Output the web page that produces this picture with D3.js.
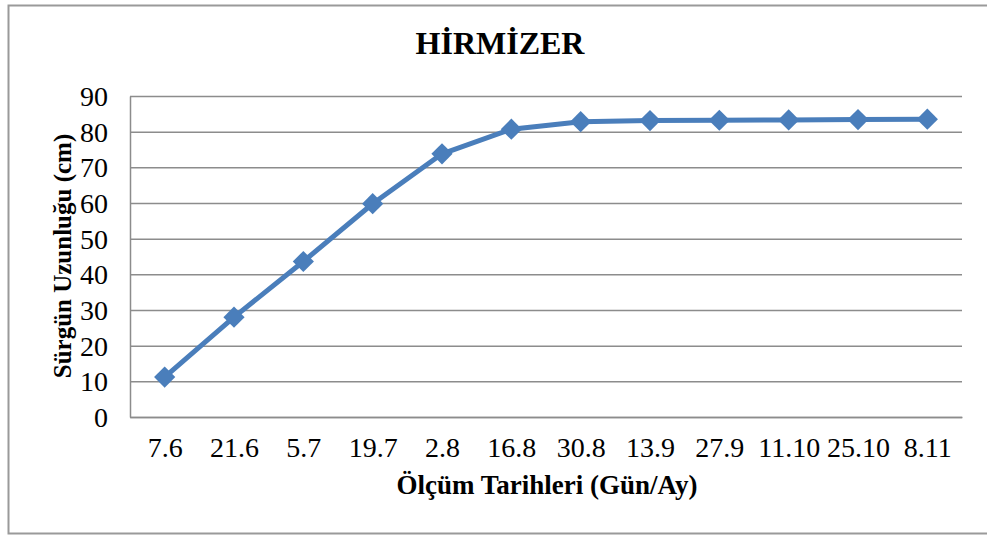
<!DOCTYPE html>
<html>
<head>
<meta charset="utf-8">
<script src="https://cdn.jsdelivr.net/npm/d3@7"></script>
<style>
  body { margin: 0; background: #fff; }
  svg text { font-family: "Liberation Serif", "Times New Roman", serif !important; fill: #000; }
</style>
</head>
<body>
<div id="chart"></div>
<script>
// measurement dates (day.month)
var dates = ["7.6", "21.6", "5.7", "19.7", "2.8", "16.8", "30.8", "13.9", "27.9", "11.10", "25.10", "8.11"];
// shoot length (cm)
var lengths = [11.2, 28.0, 43.6, 59.8, 73.8, 80.7, 82.8, 83.1, 83.2, 83.3, 83.4, 83.5];
var yTicks = [0, 10, 20, 30, 40, 50, 60, 70, 80, 90];

var W = 987, H = 536;
var margin = { top: 96, right: 25, bottom: 119, left: 130 },
  width  = W - margin.left - margin.right,
  height = H - margin.top - margin.bottom;

var svg = d3.select("#chart").append("svg")
  .attr("width", W)
  .attr("height", H);

// outer chart border (right edge runs off the picture)
svg.append("path")
  .attr("d", "M" + (W + 5) + ",5.5 H8.5 V533.5 H" + (W + 5))
  .attr("fill", "none")
  .attr("stroke", "#9a9a9a")
  .attr("stroke-width", 2);

var g = svg.append("g")
  .attr("transform", "translate(" + margin.left + "," + margin.top + ")");

var x = d3.scalePoint()
  .domain(dates)
  .range([0, width])
  .padding(0.5);

var y = d3.scaleLinear()
  .domain([0, 90])
  .range([height, 0]);

// gridlines
g.append("g")
  .attr("class", "grid")
  .call(d3.axisLeft(y).tickValues(yTicks).tickSize(-width).tickFormat(""))
  .call(function(s) {
    s.select(".domain").remove();
    s.selectAll("line").attr("stroke", "#8c8c8c").attr("stroke-width", 1.5);
  });

// y axis
g.append("g")
  .attr("font-family", null)
  .call(d3.axisLeft(y).tickValues(yTicks).tickSize(0).tickPadding(22))
  .call(function(s) {
    s.select(".domain").attr("stroke", "#8c8c8c").attr("stroke-width", 1.5);
    s.selectAll("text")
      .style("font-size", "28px")
      .attr("dy", "0.34em");
  });

// x axis
g.append("g")
  .attr("transform", "translate(0," + height + ")")
  .call(d3.axisBottom(x).tickSize(0).tickPadding(20))
  .call(function(s) {
    s.select(".domain").attr("stroke", "#8c8c8c").attr("stroke-width", 1.5);
    s.selectAll("text")
      .style("font-size", "28px")
      .attr("dy", "0.71em");
  });

var series = dates.map(function(d, i) { return { date: d, value: lengths[i] }; });

var line = d3.line()
  .x(function(d) { return x(d.date); })
  .y(function(d) { return y(d.value); });

g.append("path")
  .datum(series)
  .attr("fill", "none")
  .attr("stroke", "#4a7ebb")
  .attr("stroke-width", 5)
  .attr("stroke-linejoin", "round")
  .attr("d", line);

g.selectAll(".marker")
  .data(series)
  .enter().append("path")
  .attr("class", "marker")
  .attr("d", d3.symbol().type(d3.symbolSquare).size(225))
  .attr("transform", function(d) { return "translate(" + x(d.date) + "," + y(d.value) + ") rotate(45)"; })
  .attr("fill", "#4a7ebb");

// chart title
svg.append("text")
  .attr("x", 500)
  .attr("y", 54)
  .style("text-anchor", "middle")
  .style("font-size", "32px")
  .style("font-weight", "bold")
  .text("HİRMİZER");

// x axis label
svg.append("text")
  .attr("x", 547)
  .attr("y", 494)
  .style("text-anchor", "middle")
  .style("font-size", "27px")
  .style("font-weight", "bold")
  .text("Ölçüm Tarihleri (Gün/Ay)");

// y axis label
svg.append("text")
  .attr("transform", "translate(71," + 256 + ") rotate(-90)")
  .style("text-anchor", "middle")
  .style("font-size", "25px")
  .style("font-weight", "bold")
  .text("Sürgün Uzunluğu (cm)");
</script>
</body>
</html>
